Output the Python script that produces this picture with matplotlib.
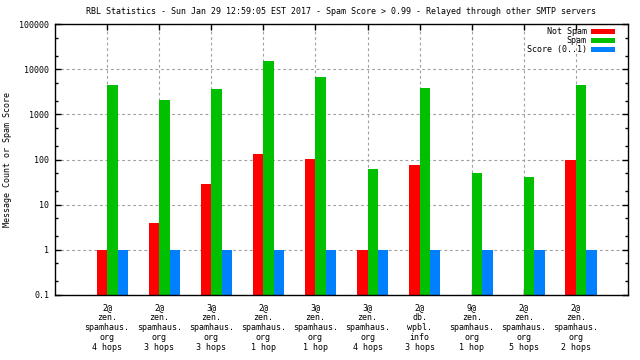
import matplotlib
matplotlib.use("Agg")
import matplotlib.pyplot as plt
import numpy as np
from matplotlib.patches import Patch
from matplotlib.ticker import FixedLocator, FixedFormatter, NullFormatter

# -----------------------------
# Data
# -----------------------------
relays = [
    "2@\nzen.\nspamhaus.\norg\n4 hops",
    "2@\nzen.\nspamhaus.\norg\n3 hops",
    "3@\nzen.\nspamhaus.\norg\n3 hops",
    "2@\nzen.\nspamhaus.\norg\n1 hop",
    "3@\nzen.\nspamhaus.\norg\n1 hop",
    "3@\nzen.\nspamhaus.\norg\n4 hops",
    "2@\ndb.\nwpbl.\ninfo\n3 hops",
    "9@\nzen.\nspamhaus.\norg\n1 hop",
    "2@\nzen.\nspamhaus.\norg\n5 hops",
    "2@\nzen.\nspamhaus.\norg\n2 hops",
]
not_spam = [1, 4, 28, 135, 104, 1, 74, 0, 0, 100]
spam = [4400, 2050, 3600, 15000, 6800, 63, 3800, 51, 42, 4400]
score = [1, 1, 1, 1, 1, 1, 1, 1, 1, 1]

series_names = ["Not Spam", "Spam", "Score (0..1)"]
y_ticks = [0.1, 1, 10, 100, 1000, 10000, 100000]
y_tick_labels = ["0.1", "1", "10", "100", "1000", "10000", "100000"]

title = ("RBL Statistics - Sun Jan 29 12:59:05 EST 2017 - "
         "Spam Score > 0.99 - Relayed through other SMTP servers")

# -----------------------------
# Figure setup
# -----------------------------
plt.rcParams["font.family"] = ["DejaVu Sans Mono"]
plt.rcParams["font.size"] = 6

fig = plt.figure(figsize=(6.4, 3.6), dpi=100)
ax = fig.add_axes([55 / 640, 65 / 360, 573 / 640, 271 / 360])

colors = ["#ff0000", "#00c000", "#0080ff"]
x = np.arange(len(relays))
w = 0.2

for i, (vals, c) in enumerate(zip([not_spam, spam, score], colors)):
    v = np.array(vals, dtype=float)
    ax.bar(x + (i - 1) * w, np.where(v > 0, v - 0.1, 0), bottom=0.1,
           width=w, align="edge", color=c, linewidth=0, zorder=2)

ax.set_yscale("log")
ax.set_ylim(0.1, 100000)
ax.set_xlim(-1, len(relays))

ax.yaxis.set_major_locator(FixedLocator(y_ticks))
ax.yaxis.set_major_formatter(FixedFormatter(y_tick_labels))
minor = [m * d for d in y_ticks[:-1] for m in (2, 5)]
ax.yaxis.set_minor_locator(FixedLocator(minor))
ax.yaxis.set_minor_formatter(NullFormatter())

ax.set_xticks(x)
ax.set_xticklabels(relays, linespacing=1.12)

ax.tick_params(axis="both", which="major", direction="in", length=4,
               width=1, top=True, right=True, labelsize=6)
ax.tick_params(axis="x", which="major", pad=6)
ax.tick_params(axis="y", which="major", pad=4)
ax.tick_params(axis="y", which="minor", direction="in", length=2,
               width=1, right=True)
ax.tick_params(axis="x", which="minor", bottom=False, top=False)

ax.grid(True, which="major", color="#a0a0a0", linestyle=(0, (2.5, 2.5)),
        linewidth=0.8, zorder=0)
ax.set_axisbelow(True)

for s in ax.spines.values():
    s.set_linewidth(1)
    s.set_color("black")

ax.set_ylabel("Message Count or Spam Score", fontsize=6)
ax.yaxis.set_label_coords((12 - 55) / 573, 0.5)
fig.text((55 + 573 / 2) / 640, 1 - 12 / 360, title,
         ha="center", va="center", fontsize=6)

handles = [Patch(color=c, linewidth=0) for c in colors]
ax.legend(handles, series_names, loc="upper right", frameon=False,
          markerfirst=False, handlelength=2.9, handleheight=0.55,
          handletextpad=0.5, labelspacing=0.0, fontsize=6,
          bbox_to_anchor=(1 - 13 / 573, 1 - 3 / 271), borderaxespad=0,
          borderpad=0)

fig.savefig("out.png", dpi=100)
